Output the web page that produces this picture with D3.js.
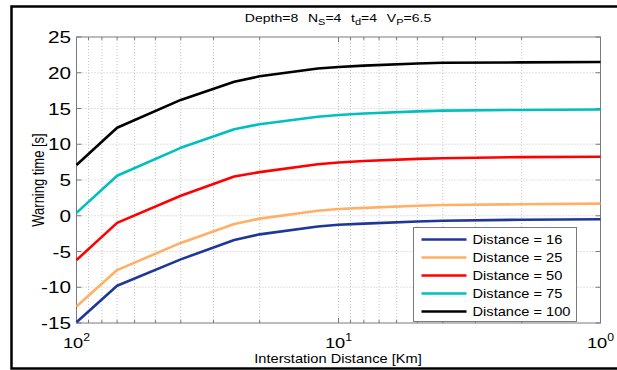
<!DOCTYPE html>
<html>
<head>
<meta charset="utf-8">
<script src="https://cdn.jsdelivr.net/npm/d3@7"></script>
<style>
  body { margin: 0; background: #fff; }
  text { font-family: "Liberation Sans", Arial, sans-serif; fill: #000; }
</style>
</head>
<body>
<div id="chart"></div>
<script>
/* warning time vs interstation distance, matlab-ish look */

const distanceKm = [100, 70, 40, 25, 20, 12, 10, 8, 5, 4, 2, 1];
const seriesNames = ["Distance = 16", "Distance = 25", "Distance = 50", "Distance = 75", "Distance = 100"];
const dist16  = [-14.9, -9.8, -6.1, -3.4, -2.6, -1.5, -1.25, -1.1, -0.8, -0.7, -0.55, -0.5];
const dist25  = [-12.7, -7.6, -3.8, -1.15, -0.4, 0.7, 0.95, 1.1, 1.4, 1.5, 1.6, 1.7];
const dist50  = [-6.2, -1.0, 2.8, 5.5, 6.1, 7.2, 7.45, 7.65, 7.95, 8.05, 8.2, 8.25];
const dist75  = [0.4, 5.6, 9.5, 12.1, 12.8, 13.85, 14.1, 14.3, 14.6, 14.7, 14.8, 14.85];
const dist100 = [7.1, 12.3, 16.2, 18.75, 19.5, 20.6, 20.8, 21.0, 21.3, 21.4, 21.45, 21.5];
const yTicks = [-15, -10, -5, 0, 5, 10, 15, 20, 25];
const xMajor = [100, 10, 1];
const xTickExp = ["2", "1", "0"];

const colors = ["#1e3799", "#ffb066", "#ff0000", "#00bfbf", "#000000"];
const allSeries = [dist16, dist25, dist50, dist75, dist100];

let width = 617,
    height = 370,
    box = ({ left: 76.5, right: 600.5, top: 37, bottom: 323 }),
    stretch = 1.22; // original picture is stretched sideways

const svg = d3.select("#chart")
  .append("svg")
  .attr("width", width)
  .attr("height", height);

// outer frame (right side is cut off in the original)
svg.append("rect")
  .attr("x", 11.5).attr("y", 6.5)
  .attr("width", 640).attr("height", 362)
  .attr("fill", "none")
  .attr("stroke", "#000")
  .attr("stroke-width", 2.5);

let x = d3.scaleLog()
  .domain([100, 1])
  .range([box.left, box.right]);

let y = d3.scaleLinear()
  .domain([-15, 25])
  .range([box.bottom, box.top]);

// text helper, stretched horizontally like the reference
function label(g, px, py, size, anchor) {
  return g.append("text")
    .attr("transform", `translate(${px},${py}) scale(${stretch},1)`)
    .attr("font-size", size)
    .attr("text-anchor", anchor || "middle");
}

const grid = svg.append("g");
let minor = x.ticks().filter(d => d > 1 && d < 100);

grid.selectAll(".vg")
  .data(minor)
  .join("line")
  .attr("x1", d => x(d)).attr("x2", d => x(d))
  .attr("y1", box.top).attr("y2", box.bottom)
  .attr("stroke", "#b8b8b8")
  .attr("stroke-width", 0.8)
  .attr("stroke-dasharray", "1,2");

grid.selectAll(".hg")
  .data(yTicks.filter(d => d > -15 && d < 25))
  .join("line")
  .attr("x1", box.left).attr("x2", box.right)
  .attr("y1", d => y(d)).attr("y2", d => y(d))
  .attr("stroke", "#b8b8b8")
  .attr("stroke-width", 0.8)
  .attr("stroke-dasharray", "1,2");

// box + inward ticks
const axes = svg.append("g").attr("stroke", "#7a7a7a").attr("stroke-width", 1);

axes.append("rect")
  .attr("x", box.left).attr("y", box.top)
  .attr("width", box.right - box.left)
  .attr("height", box.bottom - box.top)
  .attr("fill", "none");

for (let d of yTicks) {
  axes.append("line").attr("x1", box.left).attr("x2", box.left + 5).attr("y1", y(d)).attr("y2", y(d));
  axes.append("line").attr("x1", box.right).attr("x2", box.right - 5).attr("y1", y(d)).attr("y2", y(d));
}
for (let d of x.ticks()) {
  let len = xMajor.includes(d) ? 5 : 3;
  axes.append("line").attr("x1", x(d)).attr("x2", x(d)).attr("y1", box.bottom).attr("y2", box.bottom - len);
  axes.append("line").attr("x1", x(d)).attr("x2", x(d)).attr("y1", box.top).attr("y2", box.top + len);
}

// tick labels
for (let d of yTicks) {
  label(svg, 71, y(d) + 6, 17, "end").text(d);
}
xMajor.forEach((d, i) => {
  let t = label(svg, x(d), 348, 15);
  t.append("tspan").text("10");
  t.append("tspan").attr("dy", -7).attr("font-size", 10).text(xTickExp[i]);
});

// lines
let line = d3.line()
  .x((d, i) => x(distanceKm[i]))
  .y(d => y(d));

allSeries.forEach((s, i) => {
  svg.append("path")
    .datum(s)
    .attr("fill", "none")
    .attr("stroke", colors[i])
    .attr("stroke-width", 2.6)
    .attr("stroke-linejoin", "round")
    .attr("d", line);
});

// legend
const leg = svg.append("g");
leg.append("rect")
  .attr("x", 413.5).attr("y", 227.5)
  .attr("width", 163).attr("height", 94)
  .attr("fill", "#fff")
  .attr("stroke", "#7a7a7a");

seriesNames.forEach((name, i) => {
  let ly = 239.5 + i * 18;
  leg.append("line")
    .attr("x1", 421.5).attr("x2", 466.5)
    .attr("y1", ly).attr("y2", ly)
    .attr("stroke", colors[i])
    .attr("stroke-width", 2.6);
  label(leg, 472.5, ly + 4.5, 12, "start").text(name);
});

// title with subscripts
let title = label(svg, 338, 22, 11.5);
title.append("tspan").text("Depth=8");
title.append("tspan").attr("dx", 8).text("N");
title.append("tspan").attr("dy", 3).attr("font-size", 9).text("S");
title.append("tspan").attr("dy", -3).text("=4");
title.append("tspan").attr("dx", 8).text("t");
title.append("tspan").attr("dy", 3).attr("font-size", 9).text("d");
title.append("tspan").attr("dy", -3).text("=4");
title.append("tspan").attr("dx", 8).text("V");
title.append("tspan").attr("dy", 3).attr("font-size", 9).text("P");
title.append("tspan").attr("dy", -3).text("=6.5");

// axis titles
label(svg, 338, 363, 12).text("Interstation Distance [Km]");

svg.append("text")
  .attr("transform", `translate(44,${(box.top + box.bottom) / 2}) rotate(-90) scale(1,${stretch})`)
  .attr("font-size", 13)
  .attr("text-anchor", "middle")
  .text("Warning time [s]");
</script>
</body>
</html>
